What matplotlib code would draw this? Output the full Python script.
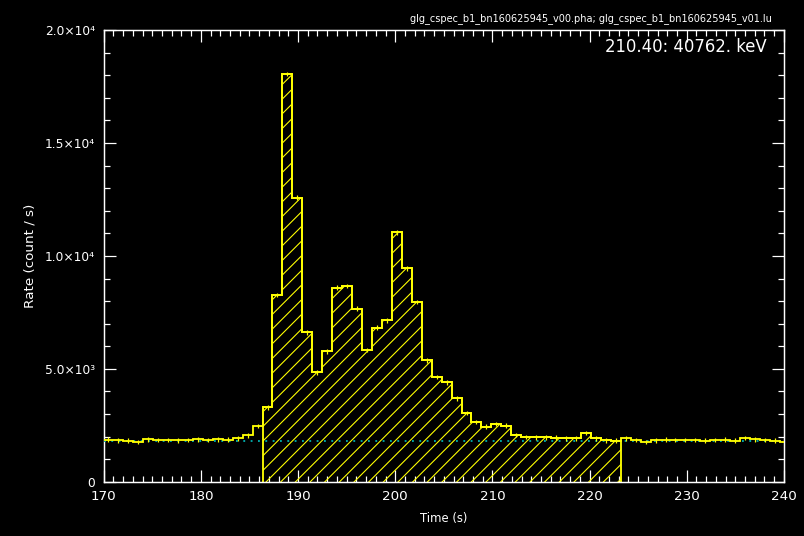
"""GBM CSPEC light curve of bn160625945 with the selected source interval"""

import numpy as np
import matplotlib.pyplot as plt
from matplotlib.ticker import FixedLocator, MultipleLocator

# 1.024 s bins, first bin starts just before 170 s
bin_width = 1.024
t_first = 169.96
rate = [1870, 1840, 1830, 1760, 1880, 1850, 1860, 1840, 1850, 1880,
        1850, 1880, 1870, 1930, 2060, 2470, 3300, 8270, 18050, 12580,
        6620, 4850, 5780, 8600, 8680, 7670, 5830, 6830, 7150, 11040,
        9450, 7970, 5380, 4650, 4400, 3700, 3040, 2640, 2440, 2560,
        2490, 2070, 1980, 1970, 1970, 1960, 1930, 1920, 2170, 1920,
        1840, 1830, 1930, 1860, 1760, 1840, 1870, 1860, 1850, 1860,
        1830, 1850, 1870, 1830, 1940, 1880, 1850, 1830, 1760]
rate_err = [100] * len(rate)
src_first, src_last = 16, 52   # selected source interval (bin indices)
background = 1800

y_ticks = [0, 5000, 10000, 15000, 20000]
y_ticklabels = ["0", "5.0×10³", "1.0×10⁴", "1.5×10⁴", "2.0×10⁴"]

rate = np.array(rate)
edges = t_first + bin_width * np.arange(len(rate) + 1)
centers = edges[:-1] + bin_width / 2

DPI = 88
plt.rcParams["hatch.linewidth"] = 0.9
fig = plt.figure(figsize=(804 / DPI, 536 / DPI), dpi=DPI, facecolor="black")
ax = fig.add_axes([0.129, 0.101, 0.846, 0.843], facecolor="black")

# hatched source interval
ax.stairs(rate[src_first:src_last], edges[src_first:src_last + 1], baseline=0,
          fill=True, facecolor="none", edgecolor="yellow", hatch="//",
          linewidth=1.5, zorder=2)
# background model
ax.plot([170, 240], [background, background], color="#00b0b0",
        linestyle=(0, (1, 3)), linewidth=1.5, zorder=3)
# full light curve
ax.stairs(rate, edges, color="yellow", linewidth=1.5, zorder=4)
ax.errorbar(centers, rate, yerr=rate_err, fmt="none", ecolor="yellow",
            elinewidth=1.0, zorder=4)

ax.set_xlim(170, 240)
ax.set_ylim(0, 20000)
ax.xaxis.set_major_locator(MultipleLocator(10))
ax.xaxis.set_minor_locator(MultipleLocator(1))
ax.yaxis.set_major_locator(FixedLocator(y_ticks))
ax.yaxis.set_minor_locator(MultipleLocator(1000))
ax.set_yticklabels(y_ticklabels)

for side in ax.spines.values():
    side.set_color("white")
    side.set_linewidth(1.2)
ax.tick_params(which="both", direction="in", top=True, right=True,
               colors="white")
ax.tick_params(axis="x", labelsize=11, pad=7)
ax.tick_params(axis="y", labelsize=10, pad=7)
ax.tick_params(which="major", length=10, width=1.0)
ax.tick_params(which="minor", length=5, width=1.0)

ax.set_xlabel("Time (s)", color="white", fontsize=9.5)
ax.set_ylabel("Rate (count / s)", color="white", fontsize=11)
ax.xaxis.set_label_coords(0.5, -0.066)
ax.yaxis.set_label_coords(-0.099, 0.5)

fig.text(0.960, 0.966, "glg_cspec_b1_bn160625945_v00.pha; glg_cspec_b1_bn160625945_v01.lu",
         color="white", fontsize=8, ha="right", va="center")
ax.text(0.975, 0.962, "210.40: 40762. keV", transform=ax.transAxes,
        color="white", fontsize=13.5, ha="right", va="center")

fig.savefig("out.png", dpi=DPI, facecolor="black")
